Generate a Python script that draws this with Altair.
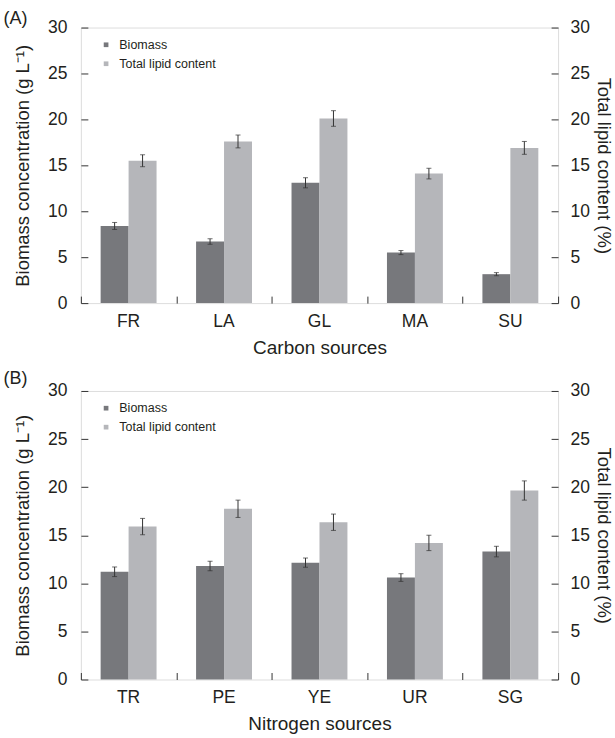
import altair as alt
import pandas as pd

series_names = ["Biomass", "Total lipid content"]

cats_c = ["FR", "LA", "GL", "MA", "SU"]
biomass_c = [8.4, 6.7, 13.1, 5.5, 3.15]
biomass_c_err = [0.38, 0.3, 0.55, 0.22, 0.17]
lipid_c = [15.5, 17.6, 20.1, 14.1, 16.9]
lipid_c_err = [0.65, 0.7, 0.85, 0.58, 0.7]

cats_n = ["TR", "PE", "YE", "UR", "SG"]
biomass_n = [11.2, 11.8, 12.15, 10.6, 13.3]
biomass_n_err = [0.5, 0.5, 0.48, 0.4, 0.55]
lipid_n = [15.9, 17.75, 16.35, 14.2, 19.65]
lipid_n_err = [0.85, 0.9, 0.85, 0.8, 1.0]

y_ticks = [0, 5, 10, 15, 20, 25, 30]

FONT = "Liberation Sans"
TXT = "#231f20"
DARK = "#77787c"
LIGHT = "#b5b6ba"
W = 478


def make_df(cats, b, be, l, le):
    rows = []
    for i, c in enumerate(cats):
        rows.append({"cat": c, "series": series_names[0], "value": b[i], "err": be[i]})
        rows.append({"cat": c, "series": series_names[1], "value": l[i], "err": le[i]})
    df = pd.DataFrame(rows)
    df["lo"] = df["value"] - df["err"]
    df["hi"] = df["value"] + df["err"]
    return df


def panel(df, cats, xtitle, label, H, title_offset):
    xscale = alt.Scale(domain=cats, paddingInner=0, paddingOuter=0)
    yscale = alt.Scale(domain=[0, 30])
    xoff = alt.XOffset("series:N", sort=series_names,
                       scale=alt.Scale(paddingInner=0, paddingOuter=0.707))
    base = alt.Chart(df)

    bars = base.mark_bar().encode(
        x=alt.X("cat:N", sort=cats, scale=xscale,
                axis=alt.Axis(title=xtitle, ticks=False, domain=False, labelAngle=0,
                              labelFontSize=17.5, titleFontSize=19, labelPadding=9,
                              titlePadding=9, labelColor=TXT, titleColor=TXT,
                              labelFont=FONT, titleFont=FONT, titleFontWeight="normal")),
        xOffset=xoff,
        y=alt.Y("value:Q", scale=yscale,
                axis=alt.Axis(orient="left", title="Biomass concentration (g L⁻¹)",
                              values=y_ticks, ticks=False, domain=False, grid=False,
                              labelFontSize=17.5, titleFontSize=18.5, labelPadding=14,
                              titlePadding=15, labelColor=TXT, titleColor=TXT,
                              labelFont=FONT, titleFont=FONT, titleFontWeight="normal")),
        color=alt.Color("series:N", sort=series_names,
                        scale=alt.Scale(domain=series_names, range=[DARK, LIGHT]),
                        legend=alt.Legend(title=None, orient="none", legendX=19, legendY=11,
                                          symbolType="square", symbolSize=22,
                                          symbolStrokeWidth=0, labelFontSize=12.5,
                                          labelFont=FONT, labelColor=TXT, rowPadding=6,
                                          labelOffset=7)),
    )

    rules = base.mark_rule(color="#333333", strokeWidth=1).encode(
        x=alt.X("cat:N", sort=cats, scale=xscale,
                axis=alt.Axis(orient="top", offset=-H, title=None, labels=False,
                              domain=False, ticks=True, tickBand="extent", tickSize=7,
                              tickColor="#333333")),
        xOffset=xoff,
        y=alt.Y("lo:Q", scale=yscale,
                axis=alt.Axis(orient="right", title="Total lipid content (%)",
                              values=y_ticks, ticks=False, domain=False, grid=False,
                              labelFontSize=17.5, titleFontSize=18.5, labelPadding=12,
                              titlePadding=4, labelColor=TXT, titleColor=TXT,
                              labelFont=FONT, titleFont=FONT, titleFontWeight="normal")),
        y2="hi:Q",
    )

    caps_top = base.mark_tick(color="#333333", thickness=1, size=5, orient="horizontal").encode(
        x=alt.X("cat:N", sort=cats, scale=xscale, axis=None),
        xOffset=xoff,
        y=alt.Y("hi:Q", scale=yscale,
                axis=alt.Axis(orient="right", offset=-W, title=None, labels=False,
                              values=y_ticks, domain=False, grid=False, tickSize=7,
                              tickColor="#333333")),
    )

    caps_bot = base.mark_tick(color="#333333", thickness=1, size=5, orient="horizontal").encode(
        x=alt.X("cat:N", sort=cats, scale=xscale, axis=None),
        xOffset=xoff,
        y=alt.Y("lo:Q", scale=yscale,
                axis=alt.Axis(orient="left", offset=-W, title=None, labels=False,
                              values=y_ticks, domain=False, grid=False, tickSize=7,
                              tickColor="#333333")),
    )

    return alt.layer(bars, rules, caps_top, caps_bot).resolve_axis(
        x="independent", y="independent"
    ).properties(
        width=W, height=H,
        title=alt.Title(label, anchor="start", frame="bounds", fontSize=18, font=FONT,
                        color=TXT, fontWeight="normal", dx=-10, offset=title_offset),
    )


top = panel(make_df(cats_c, biomass_c, biomass_c_err, lipid_c, lipid_c_err),
            cats_c, "Carbon sources", "(A)", 276, -9)
bottom = panel(make_df(cats_n, biomass_n, biomass_n_err, lipid_n, lipid_n_err),
               cats_n, "Nitrogen sources", "(B)", 289, -6)

chart = alt.vconcat(top, bottom, spacing=11).resolve_scale(
    color="independent"
).configure_view(stroke="#333333", strokeWidth=1.2).configure(
    background="white", padding={"left": 3, "top": 8, "right": 2, "bottom": 2}
)

chart.save("out.html", embed_options={"renderer": "svg", "actions": False})
